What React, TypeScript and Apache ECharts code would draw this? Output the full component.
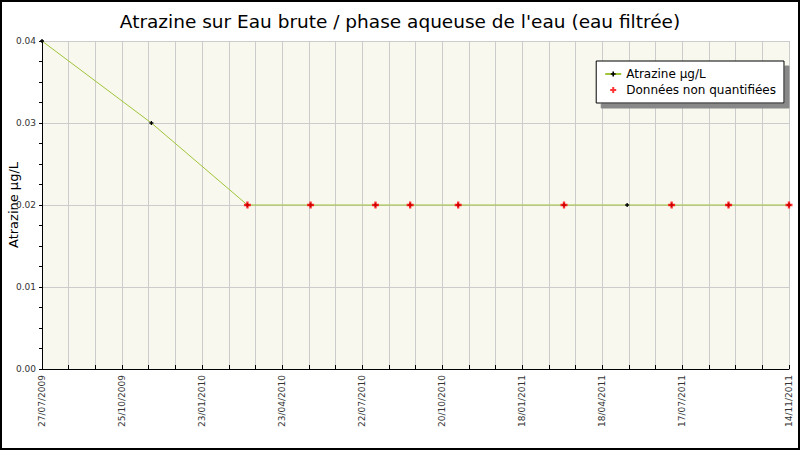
import React, { useEffect, useRef } from 'react';
import * as echarts from 'echarts';

const title = "Atrazine sur Eau brute / phase aqueuse de l'eau (eau filtrée)";
const startDate = '27/07/2009';
const endDate = '14/11/2011';
const lastRegularLabel = 720; // days; after that only the end date is labelled
const sampleDates = [
  '27/07/2009', '27/11/2009', '15/03/2010', '25/05/2010', '06/08/2010', '14/09/2010',
  '07/11/2010', '06/03/2011', '16/05/2011', '05/07/2011', '07/09/2011', '14/11/2011',
];
const atrazineValues = [0.04, 0.03, 0.02, 0.02, 0.02, 0.02, 0.02, 0.02, 0.02, 0.02, 0.02, 0.02];
const nonQuantified = [false, false, true, true, true, true, true, true, false, true, true, true];

const DAY = 86400000;
const parseDate = (s: string) => {
  const [d, m, y] = s.split('/').map(Number);
  return Date.UTC(y, m - 1, d);
};
const t0 = parseDate(startDate);
const toDays = (s: string) => Math.round((parseDate(s) - t0) / DAY);
const maxDays = toDays(endDate);
const fmtDate = (days: number) => {
  const d = new Date(t0 + days * DAY);
  const p = (n: number) => String(n).padStart(2, '0');
  return `${p(d.getUTCDate())}/${p(d.getUTCMonth() + 1)}/${d.getUTCFullYear()}`;
};

const PLUS = 'path://M2,0H4V2H6V4H4V6H2V4H0V2H2Z';

const App = () => {
  const chartRef = useRef<HTMLDivElement>(null);

  useEffect(() => {
    document.body.style.margin = '0';
    if (!chartRef.current) return;
    const chart = echarts.init(chartRef.current, null, { renderer: 'svg' });
    const mainData = sampleDates.map((d, i) => [toDays(d), atrazineValues[i]]);
    const nqData = sampleDates
      .map((d, i) => (nonQuantified[i] ? [toDays(d), atrazineValues[i]] : null))
      .filter((v) => v !== null);

    const option: any = {
      animation: false,
      textStyle: { fontFamily: 'DejaVu Sans' },
      title: {
        text: title,
        left: 'center',
        top: 7,
        textStyle: { fontFamily: 'DejaVu Sans', fontSize: 18.5, fontWeight: 'normal', color: '#000' },
      },
      legend: {
        orient: 'vertical',
        right: 16,
        top: 61,
        padding: [7, 8, 7, 8],
        itemGap: 4,
        itemWidth: 16,
        itemHeight: 6,
        backgroundColor: '#fff',
        borderColor: '#000',
        borderWidth: 1,
        shadowColor: '#888',
        shadowOffsetX: 5,
        shadowOffsetY: 5,
        shadowBlur: 0,
        textStyle: { fontFamily: 'DejaVu Sans', fontSize: 12, color: '#000' },
        data: [
          { name: 'Atrazine µg/L' },
          { name: 'Données non quantifiées', lineStyle: { color: '#ff0000', width: 1, opacity: 1 } },
        ],
      },
      grid: {
        left: 42, right: 11, top: 41, bottom: 81,
        outerBoundsMode: 'none',
        containLabel: false,
        show: true, backgroundColor: '#f8f8ee', borderWidth: 0,
      },
      xAxis: {
        type: 'value',
        min: 0,
        max: maxDays,
        interval: 30,
        axisLine: { show: true, lineStyle: { color: '#000' } },
        axisTick: { show: true, inside: true, length: 4, lineStyle: { color: '#000' } },
        splitLine: { show: true, lineStyle: { color: '#cccccc' } },
        axisLabel: {
          rotate: 90,
          fontSize: 9,
          color: '#333',
          margin: 6,
          showMaxLabel: true,
          formatter: (v: number) =>
            (v % 90 === 0 && v <= lastRegularLabel) || v === maxDays ? fmtDate(v) : '',
        },
      },
      yAxis: {
        type: 'value',
        min: 0,
        max: 0.04,
        interval: 0.01,
        name: 'Atrazine µg/L',
        nameLocation: 'middle',
        nameGap: 22,
        nameMoveOverlap: false,
        nameTextStyle: { fontFamily: 'DejaVu Sans', fontSize: 13, color: '#000' },
        axisLine: { show: true, lineStyle: { color: '#000' } },
        axisTick: { show: true, length: 3, lineStyle: { color: '#000' } },
        minorTick: { show: true, splitNumber: 4, length: 3, lineStyle: { color: '#000' } },
        splitLine: { show: true, lineStyle: { color: '#cccccc' } },
        axisLabel: { fontSize: 9, color: '#333', margin: 6, formatter: (v: number) => v.toFixed(2) },
      },
      series: [
        {
          name: 'Atrazine µg/L',
          type: 'line',
          data: mainData,
          symbol: PLUS,
          symbolSize: 4,
          itemStyle: { color: '#000' },
          lineStyle: { color: '#9fc43a', width: 1 },
          z: 2,
        },
        {
          name: 'Données non quantifiées',
          type: 'scatter',
          data: nqData as number[][],
          symbol: PLUS,
          symbolSize: 7,
          itemStyle: { color: '#ff0000' },
          z: 3,
        },
      ],
      graphic: [
        {
          type: 'rect',
          shape: { x: 1, y: 1, width: 798, height: 448 },
          style: { fill: 'none', stroke: '#000', lineWidth: 2 },
          z: 100,
        },
      ],
    };

    chart.setOption(option);
    return () => {
      chart.dispose();
    };
  }, []);

  return <div ref={chartRef} style={{ width: '800px', height: '450px' }} />;
};

export default App;
